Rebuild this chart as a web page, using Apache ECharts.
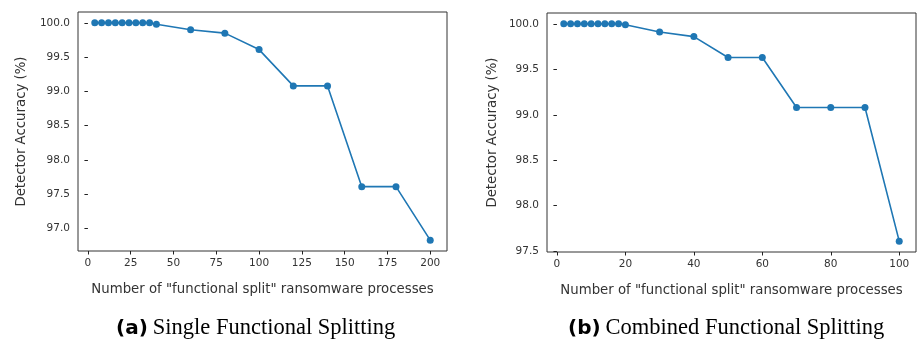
<!DOCTYPE html>
<html>
<head>
<meta charset="utf-8">
<script src="https://cdn.jsdelivr.net/npm/echarts@6/dist/echarts.min.js"></script>
<style>
  html, body { margin: 0; padding: 0; background: #fff; }
  #chart { width: 917px; height: 343px; }
</style>
</head>
<body>
<div id="chart"></div>
<script>
// (a) single functional splitting
var xA = [4, 8, 12, 16, 20, 24, 28, 32, 36, 40, 60, 80, 100, 120, 140, 160, 180, 200];
var yA = [100, 100, 100, 100, 100, 100, 100, 100, 100, 99.98, 99.90, 99.85, 99.61, 99.08, 99.08, 97.61, 97.61, 96.83];
var xTicksA = [0, 25, 50, 75, 100, 125, 150, 175, 200];
var yTicksA = [97.0, 97.5, 98.0, 98.5, 99.0, 99.5, 100.0];

// (b) combined functional splitting
var xB = [2, 4, 6, 8, 10, 12, 14, 16, 18, 20, 30, 40, 50, 60, 70, 80, 90, 100];
var yB = [100, 100, 100, 100, 100, 100, 100, 100, 100, 99.99, 99.91, 99.86, 99.63, 99.63, 99.08, 99.08, 99.08, 97.61];
var xTicksB = [0, 20, 40, 60, 80, 100];
var yTicksB = [97.5, 98.0, 98.5, 99.0, 99.5, 100.0];

var xTitle = 'Number of "functional split" ransomware processes';
var yTitle = 'Detector Accuracy (%)';
var lineColor = '#1f77b4';
var inkColor = '#333';

// matplotlib style 5% margins
function padRange(arr) {
    var lo = Math.min.apply(null, arr), hi = Math.max.apply(null, arr);
    var m = (hi - lo) * 0.05;
    return [lo - m, hi + m];
}

function makeX(idx, ticks, range) {
    return {
        type: 'value', gridIndex: idx, min: range[0], max: range[1],
        name: xTitle, nameLocation: 'middle', nameGap: 32,
        nameTextStyle: { fontFamily: 'DejaVu Sans', fontSize: 13.3, color: inkColor },
        axisLine: { show: false },
        axisTick: { show: true, length: 3.5, customValues: ticks, lineStyle: { color: '#222', width: 1 } },
        axisLabel: { customValues: ticks, margin: 7, fontFamily: 'DejaVu Sans', fontSize: 10.5, color: inkColor },
        splitLine: { show: false }
    };
}

function makeY(idx, ticks, range, gap) {
    return {
        type: 'value', gridIndex: idx, min: range[0], max: range[1],
        name: yTitle, nameLocation: 'middle', nameGap: gap,
        nameTextStyle: { fontFamily: 'DejaVu Sans', fontSize: 13.3, color: inkColor },
        axisLine: { show: false },
        axisTick: { show: true, length: 3.5, customValues: ticks, lineStyle: { color: '#222', width: 1 } },
        axisLabel: {
            customValues: ticks, margin: 8, fontFamily: 'DejaVu Sans', fontSize: 10.5, color: inkColor,
            formatter: function (v) { return v.toFixed(1); }
        },
        splitLine: { show: false }
    };
}

function makeSeries(idx, xs, ys) {
    return {
        type: 'line', xAxisIndex: idx, yAxisIndex: idx,
        data: xs.map(function (x, i) { return [x, ys[i]]; }),
        symbol: 'circle', symbolSize: 7,
        lineStyle: { color: lineColor, width: 1.6 },
        itemStyle: { color: lineColor },
        animation: false
    };
}

var captionRich = {
    a: { fontFamily: 'DejaVu Sans', fontWeight: 'bold', fontSize: 20, color: '#000' },
    b: { fontFamily: 'Liberation Serif', fontWeight: 'normal', fontSize: 22.5, color: '#000' }
};

var chart = echarts.init(document.getElementById('chart'));
chart.setOption({
    backgroundColor: '#fff',
    title: [
        { text: '{a|(a)} {b|Single Functional Splitting}', left: 111, top: 312, textStyle: { rich: captionRich } },
        { text: '{a|(b)} {b|Combined Functional Splitting}', left: 563, top: 312, textStyle: { rich: captionRich } }
    ],
    grid: [
        { left: 78, top: 12, width: 369, height: 239, show: true, borderColor: '#333', borderWidth: 1, backgroundColor: 'transparent' },
        { left: 547, top: 13, width: 369, height: 239, show: true, borderColor: '#333', borderWidth: 1, backgroundColor: 'transparent' }
    ],
    xAxis: [makeX(0, xTicksA, padRange(xA)), makeX(1, xTicksB, padRange(xB))],
    yAxis: [makeY(0, yTicksA, padRange(yA), 50), makeY(1, yTicksB, padRange(yB), 48)],
    series: [makeSeries(0, xA, yA), makeSeries(1, xB, yB)]
});
</script>
</body>
</html>
